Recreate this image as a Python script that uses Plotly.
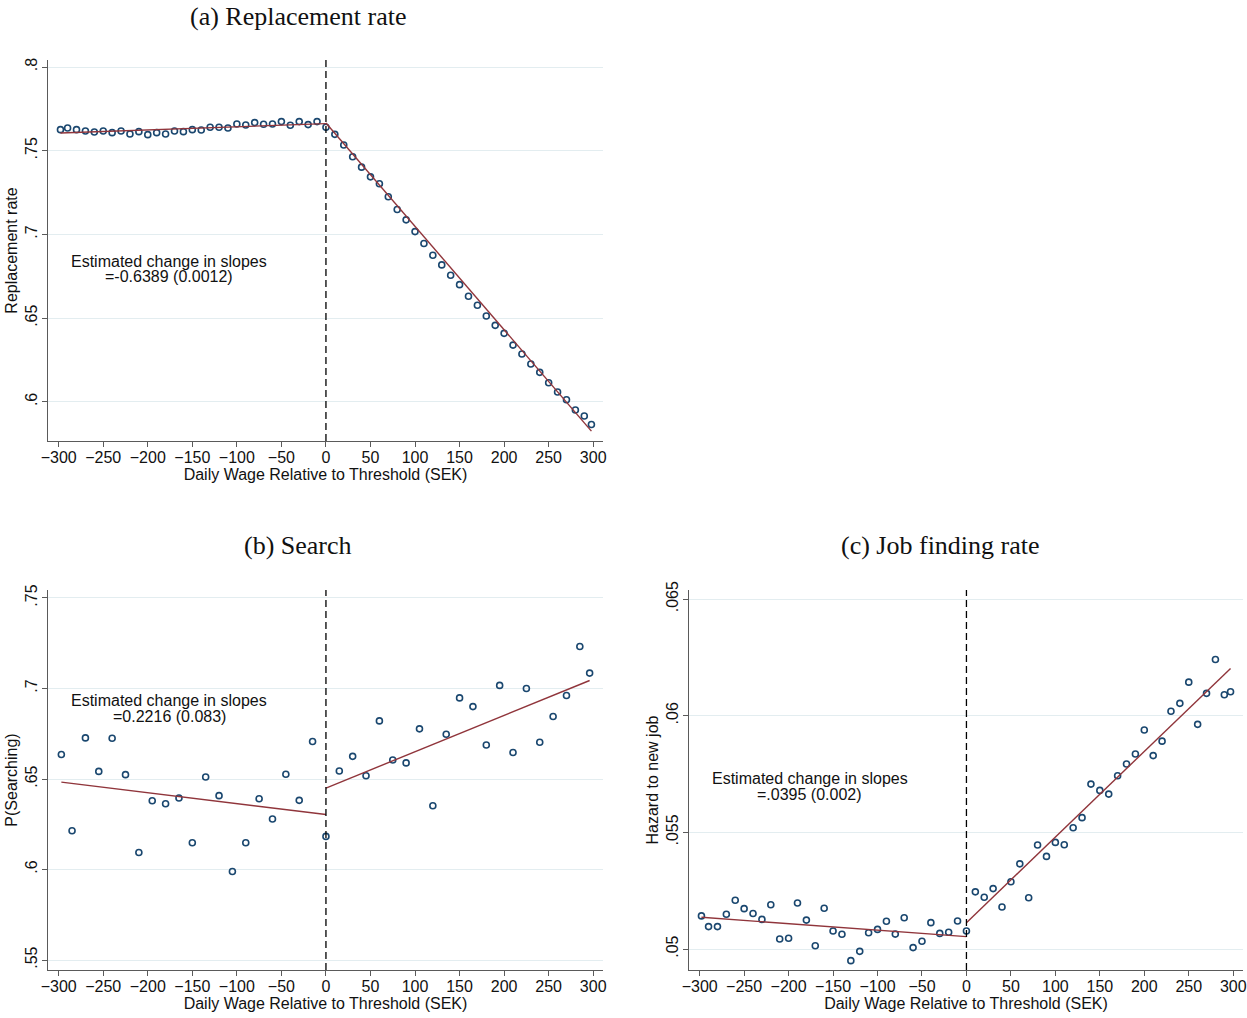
import plotly.graph_objects as go

# ---------------- data ----------------
# (a) Replacement rate
a_x = [-298, -290, -280, -270, -260, -250, -240, -230, -220, -210, -200, -190, -180, -170, -160,
       -150, -140, -130, -120, -110, -100, -90, -80, -70, -60, -50, -40, -30, -20, -10,
       0, 10, 20, 30, 40, 50, 60, 70, 80, 90, 100, 110, 120, 130, 140, 150, 160, 170, 180,
       190, 200, 210, 220, 230, 240, 250, 260, 270, 280, 290, 298]
a_y = [.7626, .7636, .7626, .7618, .7612, .7618, .7608, .7618, .7600, .7614, .7596, .7608, .7600, .7618, .7614,
       .7626, .7624, .7640, .7640, .7636, .7660, .7654, .7668, .7658, .7660, .7674, .7652, .7674, .7656, .7674,
       .7640, .7598, .7534, .7464, .7402, .7344, .7303, .7225, .7149, .7087, .7017, .6946, .6876, .6818, .6756,
       .6700, .6631, .6577, .6513, .6457, .6409, .6339, .6286, .6226, .6176, .6114, .6059, .6012, .5951, .5915,
       .5865]
a_fit_left_x = [-298, 0]
a_fit_left_y = [.7606, .7662]
a_fit_right_x = [0, 298]
a_fit_right_y = [.7666, .5825]

# (b) Search
b_x = [-297, -285, -270, -255, -240, -225, -210, -195, -180, -165, -150, -135, -120, -105, -90,
       -75, -60, -45, -30, -15, 0, 15, 30, 45, 60, 75, 90, 105, 120, 135, 150, 165, 180, 195,
       210, 225, 240, 255, 270, 285, 296]
b_y = [.6635, .6214, .6727, .6542, .6725, .6524, .6094, .6380, .6363, .6395, .6148, .6511, .6408, .5989, .6148,
       .6391, .6279, .6526, .6382, .6707, .6183, .6544, .6625, .6518, .6821, .6605, .6589, .6777, .6352, .6747,
       .6948, .6900, .6688, .7017, .6646, .7000, .6703, .6845, .6961, .7232, .7085]
b_fit_left_x = [-297, 0]
b_fit_left_y = [.6483, .6304]
b_fit_right_x = [0, 296]
b_fit_right_y = [.6450, .7044]

# (c) Job finding rate
c_x = [-298, -290, -280, -270, -260, -250, -240, -230, -220, -210, -200, -190, -180, -170, -160,
       -150, -140, -130, -120, -110, -100, -90, -80, -70, -60, -50, -40, -30, -20, -10,
       0, 10, 20, 30, 40, 50, 60, 70, 80, 90, 100, 110, 120, 130, 140, 150, 160, 170, 180,
       190, 200, 210, 220, 230, 240, 250, 260, 270, 280, 290, 297]
c_y = [.05142, .05096, .05096, .05149, .05209, .05173, .05152, .05127, .05190, .05043, .05046, .05197, .05124,
       .05014, .05175, .05077, .05063, .04950, .04990, .05070, .05084, .05119, .05064, .05134, .05006, .05033,
       .05113, .05067, .05072, .05120, .05077, .05245, .05222, .05259, .05180, .05288, .05365, .05220, .05446,
       .05397, .05457, .05447, .05520, .05563, .05707, .05680, .05664, .05743, .05793, .05836, .05939, .05829,
       .05891, .06019, .06053, .06144, .05963, .06096, .06241, .06090, .06103]
c_fit_left_x = [-298, 0]
c_fit_left_y = [.05136, .05053]
c_fit_right_x = [0, 297]
c_fit_right_y = [.05113, .06203]

x_ticks = [-300, -250, -200, -150, -100, -50, 0, 50, 100, 150, 200, 250, 300]
x_ticktext = [("\u2212" + str(-v)) if v < 0 else str(v) for v in x_ticks]

a_yticks = [.6, .65, .7, .75, .8]
a_yticktext = [".6", ".65", ".7", ".75", ".8"]
b_yticks = [.55, .6, .65, .7, .75]
b_yticktext = [".55", ".6", ".65", ".7", ".75"]
c_yticks = [.05, .055, .06, .065]
c_yticktext = [".05", ".055", ".06", ".065"]

titles = ["(a) Replacement rate", "(b) Search", "(c) Job finding rate"]
ytitles = ["Replacement rate", "P(Searching)", "Hazard to new job"]
xtitle = "Daily Wage Relative to Threshold (SEK)"
notes = ["=-0.6389 (0.0012)", "=0.2216 (0.083)", "=.0395 (0.002)"]

# ---------------- styling ----------------
W, H = 1247, 1018
MARK = "#1a476f"
FIT = "#90353b"
GRID = "#e3edf0"
AXC = "#5a5a5a"
SANS = "Liberation Sans, Arial, sans-serif"
SERIF = "Liberation Serif, Times New Roman, serif"
FS = 16

fig = go.Figure()

panels = [
    (a_x, a_y, a_fit_left_x, a_fit_left_y, a_fit_right_x, a_fit_right_y, "x", "y"),
    (b_x, b_y, b_fit_left_x, b_fit_left_y, b_fit_right_x, b_fit_right_y, "x2", "y2"),
    (c_x, c_y, c_fit_left_x, c_fit_left_y, c_fit_right_x, c_fit_right_y, "x3", "y3"),
]
for px, py, lx, ly, rx, ry, xa, ya in panels:
    fig.add_trace(go.Scatter(x=px, y=py, mode="markers", xaxis=xa, yaxis=ya,
                             marker=dict(symbol="circle-open", size=6, color=MARK,
                                         line=dict(width=1.6, color=MARK)),
                             showlegend=False, hoverinfo="skip"))
    for fx, fy in ((lx, ly), (rx, ry)):
        fig.add_trace(go.Scatter(x=fx, y=fy, mode="lines", xaxis=xa, yaxis=ya,
                                 line=dict(color=FIT, width=1.4),
                                 showlegend=False, hoverinfo="skip"))


def px_dom(a, b, total):
    return [a / total, b / total]


def py_dom(top, bottom):
    return [1 - bottom / H, 1 - top / H]


common_x = dict(tickvals=x_ticks, ticktext=x_ticktext, range=[-312, 311],
                showline=True, linecolor=AXC, linewidth=1.2, ticks="outside",
                ticklen=5, tickcolor=AXC, tickwidth=1.2, showgrid=False, zeroline=False,
                automargin=False, ticklabelstandoff=-3,
                tickfont=dict(family=SANS, size=FS, color="#111"),
                title=dict(text=xtitle, font=dict(family=SANS, size=FS, color="#111"), standoff=0))
common_y = dict(showline=True, linecolor=AXC, linewidth=1.2, ticks="outside",
                ticklen=5, tickcolor=AXC, tickwidth=1.2, showgrid=True, gridcolor=GRID,
                gridwidth=1.2, zeroline=False, tickangle=-90, automargin=False,
                ticklabelstandoff=-1,
                tickfont=dict(family=SANS, size=FS, color="#111"))

fig.update_layout(
    width=W, height=H, margin=dict(l=0, r=0, t=0, b=0, autoexpand=False),
    paper_bgcolor="white", plot_bgcolor="white",
    xaxis=dict(domain=px_dom(48, 603, W), anchor="y", **common_x),
    yaxis=dict(domain=py_dom(60, 441), anchor="x", range=[.5766, .8042],
               tickvals=a_yticks, ticktext=a_yticktext,
               title=dict(text=ytitles[0], font=dict(family=SANS, size=FS, color="#111"), standoff=0),
               **common_y),
    xaxis2=dict(domain=px_dom(48, 603, W), anchor="y2", **common_x),
    yaxis2=dict(domain=py_dom(590, 970), anchor="x2", range=[.5445, .7544],
                tickvals=b_yticks, ticktext=b_yticktext,
                title=dict(text=ytitles[1], font=dict(family=SANS, size=FS, color="#111"), standoff=0),
                **common_y),
    xaxis3=dict(domain=px_dom(689, 1243, W), anchor="y3", **common_x),
    yaxis3=dict(domain=py_dom(590, 970), anchor="x3", range=[.0491, .06539],
                tickvals=c_yticks, ticktext=c_yticktext,
                title=dict(text=ytitles[2], font=dict(family=SANS, size=FS, color="#111"), standoff=0),
                **common_y),
)

# dashed threshold lines
for xr, yr in (("x", "y"), ("x2", "y2"), ("x3", "y3")):
    fig.add_shape(type="line", xref=xr, yref=yr + " domain", x0=0, x1=0, y0=0, y1=1,
                  line=dict(color="black", width=1.3, dash="7px,4px"))

# panel titles
title_pos = [(298, 16), (298, 545), (940, 545)]
for t, (tx, ty) in zip(titles, title_pos):
    fig.add_annotation(text=t, xref="paper", yref="paper", x=tx / W, y=1 - ty / H,
                       xanchor="center", yanchor="middle", showarrow=False,
                       font=dict(family=SERIF, size=26, color="#111"))

# estimated change notes
note_pos = [("x", "y", -176, .6841, .6746), ("x2", "y2", -176, .6936, .6848),
            ("x3", "y3", -176, .05733, .05664)]
for note, (xr, yr, nx, y1, y2) in zip(notes, note_pos):
    fig.add_annotation(text="Estimated change in slopes", xref=xr, yref=yr, x=nx, y=y1,
                       xanchor="center", yanchor="middle", showarrow=False,
                       font=dict(family=SANS, size=FS, color="#111"))
    fig.add_annotation(text=note, xref=xr, yref=yr, x=nx, y=y2,
                       xanchor="center", yanchor="middle", showarrow=False,
                       font=dict(family=SANS, size=FS, color="#111"))

fig.write_html("out.html", config={"displayModeBar": False},
               post_script="document.body.style.margin='0';document.body.style.overflow='hidden';")
